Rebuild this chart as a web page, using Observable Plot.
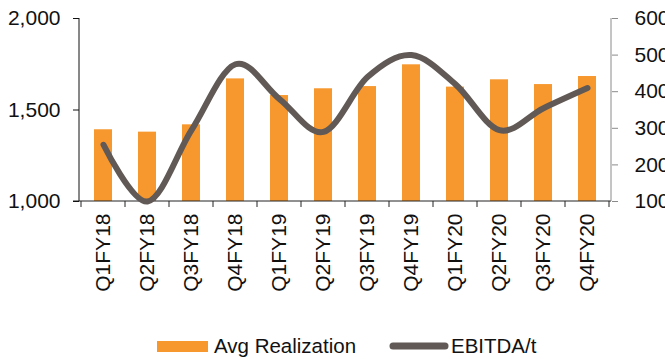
<!DOCTYPE html>
<html>
<head>
<meta charset="utf-8">
<script src="https://cdn.jsdelivr.net/npm/d3@7"></script>
<script src="https://cdn.jsdelivr.net/npm/@observablehq/plot@0.6"></script>
<style>
  html, body { margin: 0; padding: 0; background: #fff; }
  body { width: 665px; height: 359px; overflow: hidden; font-family: "Liberation Sans", Arial, sans-serif; }
  #legend { position: relative; height: 29px; font-size: 20.5px; color: #111; }
  .item { position: absolute; top: 4px; display: flex; align-items: center; }
</style>
</head>
<body>
<div id="chart"></div>
<div id="legend"></div>
<script>
const quarters = ["Q1FY18","Q2FY18","Q3FY18","Q4FY18","Q1FY19","Q2FY19","Q3FY19","Q4FY19","Q1FY20","Q2FY20","Q3FY20","Q4FY20"];
const avgRealization = [1392, 1379, 1419, 1670, 1579, 1616, 1628, 1747, 1625, 1665, 1639, 1683];
const ebitdaPerT = [255, 100, 295, 475, 380, 290, 440, 500, 420, 295, 355, 410];
const leftTicks = [1000, 1500, 2000];
const rightTicks = [100, 200, 300, 400, 500, 600];

const barColor = "#F7982F";
const lineColor = "#605955";

// right axis (100..600) mapped onto left scale (1000..2000)
const toLeft = v => 1000 + (v - 100) * 2;
const fromLeft = v => (v - 1000) / 2 + 100;

const data = quarters.map((q, i) => ({q, avg: avgRealization[i], ebitda: ebitdaPerT[i]}));

function decorations(index, scales, channels, dims) {
  const x = scales.x, y = scales.y;
  const g = d3.create("svg:g");
  const step = x(quarters[1]) - x(quarters[0]);
  const bw = x.bandwidth ? x.bandwidth() : 0;
  const gap = (step - bw) / 2;
  const y0 = y(1000), yTop = y(2000);
  const left = dims.marginLeft, right = dims.width - dims.marginRight;
  g.append("line").attr("x1", left - 6).attr("x2", right).attr("y1", y0).attr("y2", y0).attr("stroke", "#222");
  const edges = quarters.map(c => x(c) - gap);
  edges.push(x(quarters[quarters.length - 1]) + bw + gap);
  for (const e of edges) {
    g.append("line").attr("x1", e).attr("x2", e).attr("y1", y0).attr("y2", y0 + 6).attr("stroke", "#222");
  }
  g.append("line").attr("x1", left).attr("x2", left).attr("y1", yTop).attr("y2", y0).attr("stroke", "#111");
  g.append("line").attr("x1", right).attr("x2", right).attr("y1", yTop).attr("y2", y0).attr("stroke", "#8a8a8a");
  return g.node();
}

const chart = Plot.plot({
  width: 665,
  height: 330,
  marginLeft: 79,
  marginRight: 54,
  marginTop: 18,
  marginBottom: 129,
  style: {fontFamily: "'Liberation Sans', Arial, sans-serif", fontSize: "21px", color: "#111", background: "#fff", overflow: "visible"},
  x: {domain: quarters, paddingInner: 0.6, paddingOuter: 0.3, label: null},
  y: {domain: [1000, 2000], label: null},
  marks: [
    Plot.barY(data, {x: "q", y1: 1000, y2: "avg", fill: barColor}),
    decorations,
    Plot.line(data, {x: "q", y: d => toLeft(d.ebitda), curve: "cardinal", stroke: lineColor, strokeWidth: 6, strokeLinecap: "round", strokeLinejoin: "round"}),
    Plot.axisY(leftTicks, {anchor: "left", tickSize: 6, tickPadding: 13, tickFormat: d3.format(","), stroke: "#111", fill: "#111", label: null}),
    Plot.axisY(rightTicks.map(toLeft), {anchor: "right", tickSize: 6, tickPadding: 17, tickFormat: d => String(fromLeft(d)), stroke: "#8a8a8a", fill: "#111", label: null}),
    Plot.axisX(quarters, {anchor: "bottom", tickSize: 0, tickPadding: 12, tickRotate: -90, fill: "#111", label: null})
  ]
});
document.getElementById("chart").appendChild(chart);

const legend = document.getElementById("legend");
legend.innerHTML = `
  <div class="item" style="left:157px">
    <svg width="52" height="12" style="margin-right:5px"><rect x="0" y="1" width="51" height="11" fill="${barColor}"/></svg>
    <span>Avg Realization</span>
  </div>
  <div class="item" style="left:389px">
    <svg width="60" height="12" style="margin-right:2px"><line x1="4" y1="6" x2="56" y2="6" stroke="${lineColor}" stroke-width="7" stroke-linecap="round"/></svg>
    <span>EBITDA/t</span>
  </div>`;
</script>
</body>
</html>
